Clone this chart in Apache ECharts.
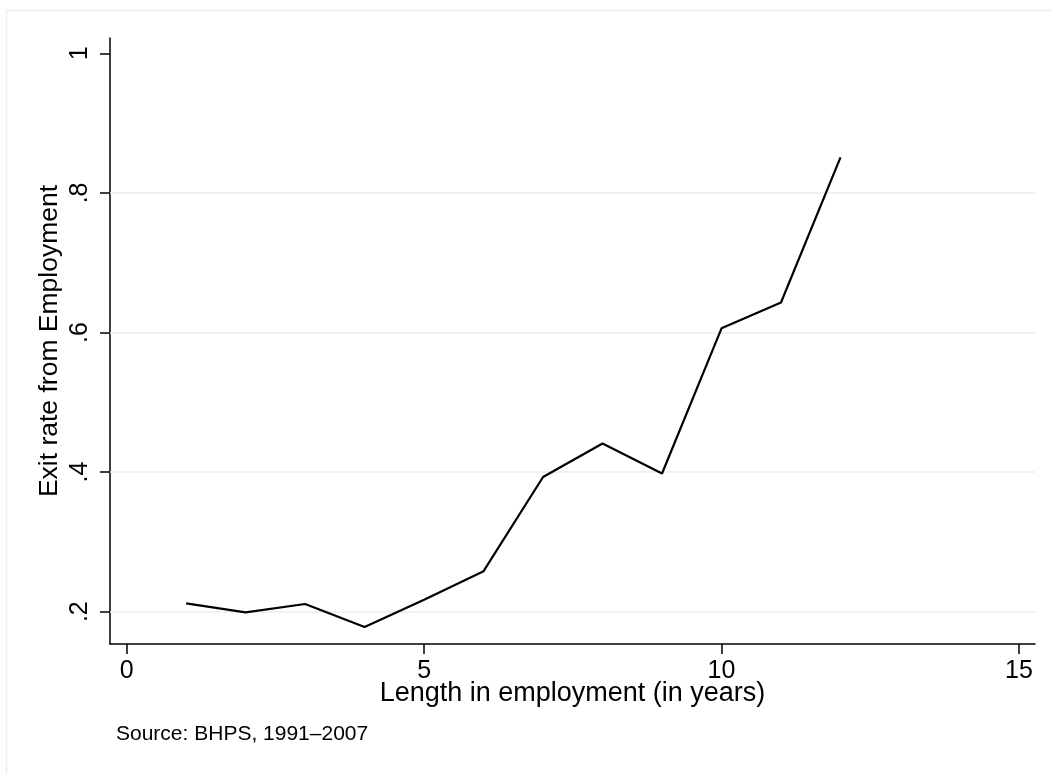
<!DOCTYPE html>
<html>
<head>
<meta charset="utf-8">
<script src="https://cdn.jsdelivr.net/npm/echarts@6/dist/echarts.min.js"></script>
<style>
  html, body { margin: 0; padding: 0; background: #ffffff; }
  #chart { width: 1051px; height: 774px; }
</style>
</head>
<body>
<div id="chart"></div>
<script>
// Exit rate from employment by length of spell (years)
const years = [1, 2, 3, 4, 5, 6, 7, 8, 9, 10, 11, 12];
const exitRate = [0.212, 0.199, 0.211, 0.178, 0.217, 0.258, 0.393, 0.441, 0.398, 0.606, 0.643, 0.851];

// Axis ticks and horizontal reference lines
const xTicks = [0, 5, 10, 15];
const yTicks = [0.2, 0.4, 0.6, 0.8, 1];
const gridValues = [0.2, 0.4, 0.6, 0.8];

const FONT = "'Liberation Sans', Arial, Helvetica, sans-serif";
const TEXT = '#000000';
const GRID_COLOR = '#e6eff1';

const fmtY = v => (v === 1 ? '1' : String(v).replace(/^0/, ''));

const chart = echarts.init(document.getElementById('chart'), null, { renderer: 'canvas' });

chart.setOption({
  backgroundColor: '#ffffff',
  animation: false,
  grid: { left: 110, right: 16, top: 38, bottom: 130, containLabel: false },
  xAxis: {
    type: 'value',
    min: -0.28,
    max: 15.27,
    name: 'Length in employment (in years)',
    nameLocation: 'middle',
    nameGap: 36,
    nameMoveOverlap: false,
    nameTextStyle: { fontFamily: FONT, fontSize: 27, color: TEXT },
    axisLine: { show: true, onZero: false, lineStyle: { color: '#000', width: 1.5 } },
    axisTick: { show: true, customValues: xTicks, length: 10, lineStyle: { color: '#000', width: 1.5 } },
    axisLabel: { customValues: xTicks, fontFamily: FONT, fontSize: 25, color: TEXT, margin: 15 },
    splitLine: { show: false }
  },
  yAxis: {
    type: 'value',
    min: 0.1537,
    max: 1.022,
    name: 'Exit rate from Employment',
    nameLocation: 'middle',
    nameGap: 47,
    nameMoveOverlap: false,
    nameRotate: 90,
    nameTextStyle: { fontFamily: FONT, fontSize: 26.5, color: TEXT },
    axisLine: { show: true, onZero: false, lineStyle: { color: '#000', width: 1.5 } },
    axisTick: { show: true, customValues: yTicks, length: 10, lineStyle: { color: '#000', width: 1.5 } },
    axisLabel: {
      customValues: yTicks, rotate: 90, fontFamily: FONT, fontSize: 25, color: TEXT, margin: 17,
      formatter: fmtY
    },
    splitLine: { show: false }
  },
  series: [
    {
      // horizontal reference lines, kept beneath the data line
      type: 'line',
      zlevel: 0,
      z: 1,
      data: [],
      silent: true,
      markLine: {
        silent: true,
        symbol: ['none', 'none'],
        label: { show: false },
        lineStyle: { color: GRID_COLOR, width: 1.5, type: 'solid' },
        data: gridValues.map(v => ({ yAxis: v }))
      }
    },
    {
      type: 'line',
      zlevel: 1,
      z: 3,
      data: years.map((y, i) => [y, exitRate[i]]),
      showSymbol: false,
      symbol: 'none',
      lineStyle: { color: '#000000', width: 2.2 }
    }
  ],
  graphic: [
    {
      type: 'rect',
      silent: true,
      shape: { x: 6.5, y: 10.5, width: 1200, height: 900 },
      style: { fill: 'none', stroke: GRID_COLOR, lineWidth: 1.5 }
    },
    {
      type: 'text',
      left: 116,
      top: 724,
      style: { text: 'Source: BHPS, 1991\u20132007', font: '21px ' + FONT, fill: TEXT }
    }
  ]
});
</script>
</body>
</html>
